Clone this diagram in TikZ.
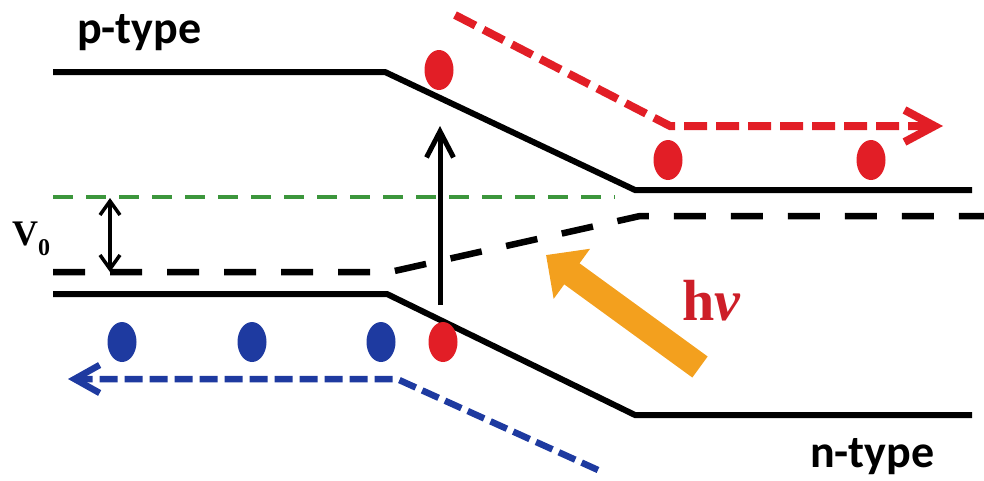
\documentclass[tikz,border=0pt]{standalone}
\usepackage{fontspec}
\setmainfont{Liberation Serif}
\newfontfamily\calibri{Carlito}
\usetikzlibrary{arrows.meta,shapes.geometric}
\definecolor{elecred}{RGB}{226,30,38}
\definecolor{holeblue}{RGB}{30,58,160}
\definecolor{levgreen}{RGB}{60,150,60}
\definecolor{lightorange}{RGB}{243,160,30}
\definecolor{hvred}{RGB}{205,30,40}
\tikzset{
  band/.style={line width=6pt},
  fermi/.style={line width=6.5pt, dash pattern=on 32pt off 25pt},
  vacline/.style={levgreen, line width=4pt, dash pattern=on 20pt off 13pt},
  carrier/.style={ellipse, fill=#1, inner sep=0pt, minimum width=29pt, minimum height=40pt},
  elecpath/.style={elecred, line width=8pt, dash pattern=on 23pt off 9pt, -{Straight Barb[length=30pt,width=32pt]}},
  holepath/.style={holeblue, line width=6.5pt, dash pattern=on 18pt off 7pt, -{Straight Barb[length=25pt,width=28pt]}},
  label/.style={anchor=base west, inner sep=0pt}
}
\begin{document}
\begin{tikzpicture}[x=1pt,y=-1pt]
\useasboundingbox (0,0) rectangle (984,480);
% bands
\coordinate (cbl) at (53,72);
\coordinate (cbk) at (385,72);
\coordinate (cbn) at (635,190);
\coordinate (cbr) at (972,190);
\coordinate (vbl) at (53,294);
\coordinate (vbk) at (387,294);
\coordinate (vbn) at (635,415);
\coordinate (vbr) at (972,415);
\draw[band] (cbl) -- (cbk) -- (cbn) -- (cbr);
\draw[band] (vbl) -- (vbk) -- (vbn) -- (vbr);
% levels
\coordinate (efl) at (53,272);
\coordinate (efk) at (390,272);
\coordinate (efn) at (640,216);
\coordinate (efr) at (984,216);
\draw[fermi] (efl) -- (efk) -- (efn) -- (efr);
\coordinate (vl) at (53,197);
\coordinate (vr) at (615,197);
\draw[vacline] (vl) -- (vr);
\coordinate (vtop) at (110,198);
\coordinate (vbot) at (110,272);
\draw[line width=3.5pt, {Straight Barb[length=14pt,width=20pt]}-{Straight Barb[length=14pt,width=20pt]}] (vtop) -- (vbot);
\node[label, font={\bfseries\fontsize{36}{36}\selectfont}] (vzero) at (12,245) {V\raisebox{-10pt}{\fontsize{24}{24}\selectfont 0}};
% carriers
\foreach \x/\y [count=\i] in {439/70,443/342,668/160,871/160} \node[carrier=elecred] (e\i) at (\x,\y) {};
\foreach \x [count=\i] in {122,252,381} \node[carrier=holeblue] (h\i) at (\x,342) {};
% excitation
\coordinate (exa) at (440,305);
\coordinate (exb) at (440,126);
\draw[line width=5pt, -{Straight Barb[length=26pt,width=27pt]}] (exa) -- (exb);
\coordinate (phs) at (700,367);
\coordinate (phe) at (546,255);
\draw[lightorange, line width=26pt, -{Triangle[length=32pt,width=60pt]}] (phs) -- (phe);
\node[label, text=hvred, font={\bfseries\fontsize{58}{58}\selectfont}] (hnu) at (682,320) {h\textit{ν}};
% carrier flow
\coordinate (ra) at (455,15);
\coordinate (rb) at (670,126);
\coordinate (rc) at (943,126);
\draw[elecpath] (ra) -- (rb) -- (rc);
\coordinate (ba) at (598,470);
\coordinate (bb) at (397,379);
\coordinate (bc) at (68,379);
\draw[holepath] (ba) -- (bb) -- (bc);
\node[label, font={\calibri\bfseries\fontsize{46}{46}\selectfont}] (ptype) at (77,43) {p-type};
\node[label, font={\calibri\bfseries\fontsize{46}{46}\selectfont}] (ntype) at (810,467) {n-type};
\end{tikzpicture}
\end{document}
